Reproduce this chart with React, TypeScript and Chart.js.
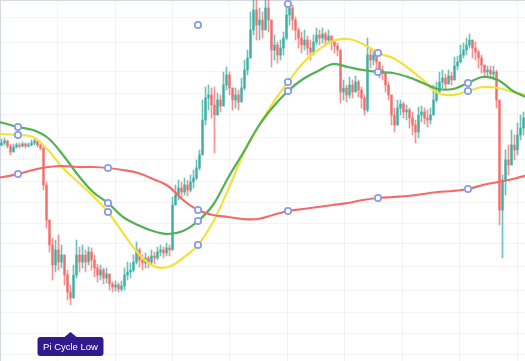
import { useEffect, useRef } from 'react';
import { Chart, registerables } from 'chart.js';

Chart.register(...registerables);

// ---- Candles (one per period; open = previous close) ----
const FIRST_OPEN = 9200;
const CLOSE = [
  9280, 9360, 9160, 8920, 9120, 9200, 9160, 9240, 9160, 9200,
  9280, 9360, 9200, 9080, 7600, 6200, 5200, 4400, 5000, 4520,
  4800, 4000, 3320, 3080, 4000, 4800, 4520, 4800, 4520, 4920,
  4600, 4280, 4000, 4200, 3880, 4040, 3640, 3520, 3600, 3440,
  3560, 4000, 4120, 4200, 4520, 5000, 4600, 4480, 4680, 4520,
  4760, 4680, 4920, 5000, 4880, 5080, 5000, 6800, 7200, 7480,
  7320, 7600, 7400, 7720, 7880, 8280, 8800, 10200, 11080, 11200,
  10800, 10400, 11000, 10760, 11600, 12000, 11480, 11000, 11200, 10920,
  11480, 12200, 12680, 13800, 14600, 14000, 14200, 13800, 14680, 14200,
  13000, 13200, 12800, 13080, 13480, 14400, 14680, 14200, 13800, 13480,
  13200, 13400, 13080, 12920, 13320, 13600, 13480, 13640, 13400, 13560,
  13320, 13160, 13000, 11320, 11480, 11200, 11600, 11320, 11720, 11400,
  11080, 10600, 12800, 12600, 12800, 12520, 12200, 12080, 11600, 11200,
  10400, 10000, 10680, 10840, 10520, 10600, 10280, 10000, 9720, 10400,
  10520, 10280, 10200, 10400, 11000, 11320, 11720, 11880, 11640, 11960,
  11800, 12360, 12520, 12800, 13000, 13200, 13400, 13080, 12920, 12680,
  12400, 12120, 12200, 12040, 12120, 11000, 6600, 7800, 8600, 8400,
  9200, 9000, 9600, 9880, 10280,
];
const HIGH = [
  9440, 9480, 9400, 9240, 9240, 9280, 9280, 9320, 9280, 9280,
  9400, 9440, 9360, 9240, 9120, 7720, 6120, 5480, 5400, 5600,
  5200, 4680, 4200, 3600, 4400, 5400, 5120, 5200, 5000, 5120,
  5080, 4800, 4440, 4400, 4280, 4280, 3960, 3720, 3760, 3680,
  3760, 4280, 4520, 4480, 4800, 5320, 5080, 4800, 4880, 4760,
  5000, 4920, 5120, 5200, 5120, 5280, 5200, 7120, 7600, 7800,
  7720, 7880, 7800, 8000, 8200, 8600, 9000, 11000, 11520, 11600,
  11480, 11520, 11280, 11200, 12120, 12320, 12120, 11480, 11480, 11400,
  11880, 12600, 13000, 14520, 15200, 15000, 14680, 14520, 15200, 15000,
  14000, 13600, 13320, 13400, 13720, 14800, 14920, 14800, 14320, 13880,
  13720, 13800, 13560, 13400, 13600, 13880, 13800, 13880, 13720, 13800,
  13560, 13400, 13280, 13000, 11800, 11600, 11920, 11800, 11960, 11800,
  11520, 11200, 13480, 13080, 13000, 12920, 12520, 12360, 12000, 11720,
  11000, 10680, 11000, 11000, 10920, 10800, 10680, 10520, 10200, 10720,
  10760, 10680, 10600, 10680, 11600, 11720, 12120, 12200, 12040, 12200,
  12120, 12720, 12760, 13200, 13280, 13480, 13640, 13400, 13320, 13000,
  12800, 12360, 12360, 12360, 12360, 12200, 11000, 8000, 9000, 9200,
  9800, 9600, 10080, 10400, 10520,
];
const LOW = [
  9160, 9200, 9080, 8800, 8920, 9080, 9080, 9120, 9080, 9120,
  9160, 9200, 9120, 9000, 7400, 5880, 4920, 3800, 4120, 4200,
  4280, 3600, 3000, 2800, 3200, 3880, 4120, 4280, 4120, 4400,
  4200, 3920, 3720, 3800, 3640, 3680, 3400, 3320, 3360, 3320,
  3360, 3400, 3800, 3880, 4120, 4440, 4320, 4200, 4280, 4280,
  4440, 4440, 4600, 4760, 4680, 4760, 4760, 5000, 6800, 7000,
  7080, 7200, 7160, 7320, 7480, 7800, 8200, 8800, 10000, 10600,
  10280, 8880, 10520, 10520, 11120, 11400, 11200, 10600, 10680, 10600,
  11200, 11400, 12000, 13000, 13600, 13400, 13400, 13480, 13880, 13720,
  12320, 12600, 12480, 12600, 12800, 13400, 14000, 13800, 13400, 13080,
  12880, 13000, 12800, 12600, 12800, 13200, 13200, 13280, 13160, 13240,
  13000, 12880, 12760, 10880, 11000, 10920, 11080, 11080, 11320, 11120,
  10680, 10400, 10520, 12280, 12400, 12280, 11880, 11800, 11320, 11000,
  10000, 9720, 10280, 10400, 10280, 10200, 9880, 9600, 9280, 9480,
  10120, 10040, 9920, 10040, 10480, 10920, 11320, 11480, 11400, 11640,
  11600, 12000, 12200, 12480, 12680, 12800, 13080, 12680, 12600, 12280,
  12080, 11880, 11920, 11840, 11800, 10680, 6000, 4680, 7200, 8000,
  8400, 8600, 8800, 9400, 9600,
];

// ---- Moving-average lines (sampled every 5 periods) ----
const LINE_T = [
  -4, 1, 6, 11, 16, 21, 26, 31, 36, 41, 46, 51, 56, 61, 66, 71, 76, 81, 86,
  91, 96, 101, 106, 111, 116, 121, 126, 131, 136, 141, 146, 151, 156, 161, 166, 171, 176,
];
const RED_LINE = [
  7840, 7920, 8040, 8200, 8320, 8360, 8320, 8320, 8280, 8200,
  8080, 7840, 7560, 7000, 6600, 6400, 6320, 6240, 6240, 6400,
  6560, 6640, 6720, 6800, 6880, 7000, 7080, 7120, 7160, 7240,
  7320, 7360, 7440, 7600, 7720, 7840, 8000,
];
const GREEN_LINE = [
  10200, 10080, 9920, 9800, 9480, 8800, 8000, 7320, 6880, 6320,
  6000, 5760, 5640, 5760, 6160, 6800, 7880, 8880, 9920, 10720,
  11360, 11840, 12160, 12440, 12320, 12200, 12120, 12080, 11920, 11680,
  11440, 11440, 11680, 11920, 11800, 11360, 11080,
];
const YELLOW_LINE = [
  9680, 9640, 9600, 9520, 9000, 8280, 7720, 7160, 6520, 5680,
  4880, 4360, 4320, 4680, 5200, 6120, 7400, 8800, 9920, 10880,
  11720, 12480, 13000, 13360, 13440, 13240, 12880, 12680, 12280, 11800,
  11280, 11200, 11360, 11520, 11480, 11320, 11200,
];
// markers of an upper series whose line is not drawn
const UPPER_T = [66, 96];
const UPPER_V = [14000, 14840];

const MARKER_FIRST = 6;
const MARKER_EVERY = 30;

// ---- Grid ----
const X_GRID = [9.7, 28.9, 48.0, 67.1, 86.2, 105.4, 124.5, 143.6, 162.8];
const Y_GRID = [14280, 13280, 12160, 11240, 10400, 9520, 8640, 7760, 6880, 6080, 5280, 4360, 3400, 2520, 1680, 840];
const X_MIN = 0;
const X_MAX = 175;
const Y_MIN = 560;
const Y_MAX = 15000;

// ---- Annotation ----
const PI_LOW_T = 23.5;
const PI_LOW_TEXT = 'Pi Cycle Low';

const UP = 'rgba(38,166,154,0.68)';
const DOWN = 'rgba(239,83,80,0.62)';
const MARKER = '#8a9ee8';

const piLabel = {
  id: 'piLabel',
  afterDatasetsDraw(chart: any) {
    const { ctx, chartArea, scales } = chart;
    const px = scales.x.getPixelForValue(PI_LOW_T);
    const w = 66;
    const h = 19;
    const bottom = chartArea.bottom - 5;
    const top = bottom - h;
    const left = px - w / 2;
    ctx.save();
    ctx.fillStyle = '#2f1b8e';
    ctx.beginPath();
    const r = 3;
    ctx.moveTo(left + r, top);
    ctx.lineTo(px - 6, top);
    ctx.lineTo(px, top - 5);
    ctx.lineTo(px + 6, top);
    ctx.lineTo(left + w - r, top);
    ctx.quadraticCurveTo(left + w, top, left + w, top + r);
    ctx.lineTo(left + w, bottom - r);
    ctx.quadraticCurveTo(left + w, bottom, left + w - r, bottom);
    ctx.lineTo(left + r, bottom);
    ctx.quadraticCurveTo(left, bottom, left, bottom - r);
    ctx.lineTo(left, top + r);
    ctx.quadraticCurveTo(left, top, left + r, top);
    ctx.closePath();
    ctx.fill();
    ctx.fillStyle = '#ffffff';
    ctx.font = '9.5px "Liberation Sans", Arial, sans-serif';
    ctx.textAlign = 'center';
    ctx.textBaseline = 'middle';
    ctx.fillText(PI_LOW_TEXT, px, top + h / 2 + 0.5);
    ctx.restore();
  },
};

export default function App() {
  const ref = useRef<HTMLCanvasElement>(null);

  useEffect(() => {
    if (!ref.current) return;
    const opens = CLOSE.map((c, i) => (i === 0 ? FIRST_OPEN : CLOSE[i - 1]));
    const bodies = CLOSE.map((c, i) => ({ x: i + 0.5, y: [opens[i], c] }));
    const wicks = CLOSE.map((c, i) => ({
      x: i + 0.5,
      y: [Math.min(LOW[i], opens[i], c), Math.max(HIGH[i], opens[i], c)],
    }));
    const colors = CLOSE.map((c, i) => (c >= opens[i] ? UP : DOWN));

    const markerRadius = (ctx: any) => {
      const raw = ctx.raw;
      if (!raw) return 0;
      return (raw.x - MARKER_FIRST) % MARKER_EVERY === 0 ? 3.2 : 0;
    };
    const line = (vals: number[], color: string) => ({
      type: 'line' as const,
      data: LINE_T.map((t, i) => ({ x: t, y: vals[i] })),
      borderColor: color,
      borderWidth: 2.2,
      tension: 0.35,
      pointRadius: markerRadius,
      pointBackgroundColor: '#ffffff',
      pointBorderColor: MARKER,
      pointBorderWidth: 1.8,
      order: 1,
    });

    const chart = new Chart(ref.current, {
      type: 'bar',
      data: {
        datasets: [
          {
            type: 'bar',
            data: wicks as any,
            backgroundColor: colors,
            barThickness: 1,
            grouped: false,
            order: 4,
          },
          {
            type: 'bar',
            data: bodies as any,
            backgroundColor: colors,
            barThickness: 2,
            grouped: false,
            order: 3,
          },
          line(RED_LINE, '#f26b6b'),
          line(GREEN_LINE, '#52b155'),
          line(YELLOW_LINE, '#f3e23b'),
          {
            type: 'line',
            data: UPPER_T.map((t, i) => ({ x: t, y: UPPER_V[i] })),
            showLine: false,
            pointRadius: 3.2,
            pointBackgroundColor: '#ffffff',
            pointBorderColor: MARKER,
            pointBorderWidth: 1.8,
            order: 0,
          } as any,
        ] as any,
      },
      options: {
        animation: false,
        responsive: false,
        devicePixelRatio: 1,
        events: [],
        layout: { padding: 0, autoPadding: false },
        plugins: { legend: { display: false }, tooltip: { enabled: false } },
        scales: {
          x: {
            type: 'linear',
            position: 'top',
            min: X_MIN,
            max: X_MAX,
            offset: false,
            afterBuildTicks: (s: any) => {
              s.ticks = X_GRID.map((v) => ({ value: v }));
            },
            ticks: { display: false },
            grid: { color: 'rgba(0,0,0,0.045)', drawTicks: false, lineWidth: 1 },
            border: { display: true, color: '#d3d7df', width: 2 },
          },
          y: {
            type: 'linear',
            position: 'left',
            min: Y_MIN,
            max: Y_MAX,
            afterBuildTicks: (s: any) => {
              s.ticks = Y_GRID.map((v) => ({ value: v }));
            },
            ticks: { display: false },
            grid: { color: 'rgba(0,0,0,0.045)', drawTicks: false, lineWidth: 1 },
            border: { display: true, color: '#d3d7df', width: 2 },
          },
        },
      } as any,
      plugins: [piLabel],
    });
    return () => chart.destroy();
  }, []);

  return (
    <div style={{ position: 'absolute', left: 0, top: 0, width: 525, height: 361, background: '#ffffff' }}>
      <canvas ref={ref} width={525} height={361} style={{ display: 'block' }} />
    </div>
  );
}
